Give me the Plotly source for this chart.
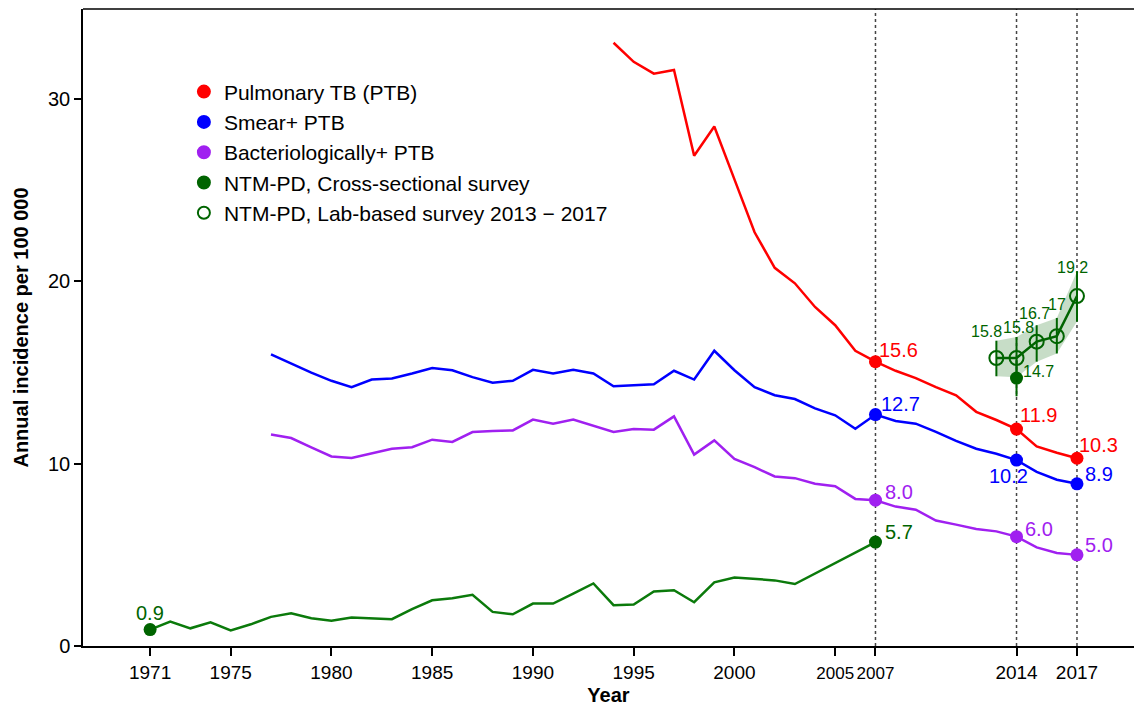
import plotly.graph_objects as go

# ---------------- data ----------------
ptb_years = list(range(1994, 2018))
ptb_vals = [33.1, 32.05, 31.4, 31.6, 26.9, 28.5, 25.6, 22.7, 20.75, 19.9, 18.6, 17.6,
            16.2, 15.6, 15.1, 14.7, 14.2, 13.75, 12.85, 12.4, 11.9, 10.95, 10.6, 10.3]

smear_years = list(range(1977, 2018))
smear_vals = [16.0, 15.5, 15.0, 14.55, 14.2, 14.62, 14.68, 14.95, 15.25, 15.13, 14.75,
              14.45, 14.55, 15.15, 14.95, 15.15, 14.95, 14.25, 14.3, 14.36, 15.1, 14.62,
              16.2, 15.13, 14.2, 13.76, 13.55, 13.04, 12.66, 11.92, 12.7, 12.35, 12.2,
              11.75, 11.25, 10.82, 10.55, 10.2, 9.55, 9.12, 8.9]

bact_years = list(range(1977, 2018))
bact_vals = [11.6, 11.41, 10.9, 10.4, 10.31, 10.58, 10.82, 10.91, 11.32, 11.2, 11.74,
             11.8, 11.83, 12.42, 12.2, 12.42, 12.1, 11.74, 11.9, 11.87, 12.6, 10.5,
             11.28, 10.27, 9.81, 9.3, 9.21, 8.9, 8.77, 8.07, 8.0, 7.65, 7.48, 6.88,
             6.66, 6.42, 6.29, 6.0, 5.41, 5.1, 5.0]

ntm_cs_years = list(range(1971, 2004)) + [2007]
ntm_cs_vals = [0.9, 1.34, 0.97, 1.3, 0.86, 1.19, 1.6, 1.8, 1.52, 1.38, 1.56, 1.52, 1.47,
               2.02, 2.51, 2.62, 2.81, 1.87, 1.74, 2.33, 2.33, 2.88, 3.43, 2.24, 2.28,
               2.99, 3.06, 2.4, 3.49, 3.76, 3.7, 3.6, 3.4, 5.7]

ntm_cs_pts_years = [1971, 2007, 2014]
ntm_cs_pts_vals = [0.9, 5.7, 14.7]
ntm_cs_pts_lo = [0.9, 5.7, 13.7]
ntm_cs_pts_hi = [0.9, 5.7, 15.7]

lab_years = [2013, 2014, 2015, 2016, 2017]
lab_vals = [15.8, 15.8, 16.7, 17.0, 19.2]
lab_lo = [14.8, 14.75, 15.6, 16.05, 17.8]
lab_hi = [16.75, 16.95, 17.6, 18.0, 20.55]
lab_text = ["15.8", "15.8", "16.7", "17", "19.2"]

key_years = [2007, 2014, 2017]
x_tickvals = [1971, 1975, 1980, 1985, 1990, 1995, 2000, 2005, 2007, 2014, 2017]
x_ticktext = ["1971", "1975", "1980", "1985", "1990", "1995", "2000",
              '<span style="font-size:17px">2005</span>',
              '<span style="font-size:17px">2007</span>', "2014", "2017"]
y_tickvals = [0, 10, 20, 30]

RED = "#ff0000"
BLUE = "#0000ff"
PURPLE = "#a020f0"
GREEN = "#006400"
LGREEN = "#0b7a0b"
FONT = "Liberation Sans, Arial, sans-serif"


def pick(years, vals, wanted):
    d = dict(zip(years, vals))
    return [d[y] for y in wanted]


fig = go.Figure()

# shaded CI band of lab-based survey
fig.add_trace(go.Scatter(x=lab_years, y=lab_lo, mode="lines", line=dict(width=0),
                         showlegend=False, hoverinfo="skip"))
fig.add_trace(go.Scatter(x=lab_years, y=lab_hi, mode="lines", line=dict(width=0),
                         fill="tonexty", fillcolor="rgba(0,100,0,0.22)",
                         showlegend=False, hoverinfo="skip"))

# lines
fig.add_trace(go.Scatter(x=ptb_years, y=ptb_vals, mode="lines",
                         line=dict(color=RED, width=2.5), showlegend=False))
fig.add_trace(go.Scatter(x=smear_years, y=smear_vals, mode="lines",
                         line=dict(color=BLUE, width=2.5), showlegend=False))
fig.add_trace(go.Scatter(x=bact_years, y=bact_vals, mode="lines",
                         line=dict(color=PURPLE, width=2.5), showlegend=False))
fig.add_trace(go.Scatter(x=ntm_cs_years, y=ntm_cs_vals, mode="lines",
                         line=dict(color=LGREEN, width=2.5), showlegend=False))

# key markers
ptb_k = pick(ptb_years, ptb_vals, key_years)
smear_k = pick(smear_years, smear_vals, key_years)
bact_k = pick(bact_years, bact_vals, key_years)

fig.add_trace(go.Scatter(x=key_years, y=ptb_k, mode="markers",
                         marker=dict(color=RED, size=13), showlegend=False))
fig.add_trace(go.Scatter(x=key_years, y=smear_k, mode="markers",
                         marker=dict(color=BLUE, size=13), showlegend=False))
fig.add_trace(go.Scatter(x=key_years, y=bact_k, mode="markers",
                         marker=dict(color=PURPLE, size=13), showlegend=False))
fig.add_trace(go.Scatter(
    x=ntm_cs_pts_years, y=ntm_cs_pts_vals, mode="markers",
    marker=dict(color=GREEN, size=13),
    error_y=dict(type="data", symmetric=False,
                 array=[h - v for h, v in zip(ntm_cs_pts_hi, ntm_cs_pts_vals)],
                 arrayminus=[v - l for l, v in zip(ntm_cs_pts_lo, ntm_cs_pts_vals)],
                 color=GREEN, thickness=2, width=0),
    showlegend=False))

# lab-based survey
fig.add_trace(go.Scatter(
    x=lab_years, y=lab_vals, mode="lines+markers",
    line=dict(color=GREEN, width=2.5),
    marker=dict(symbol="circle-open", color=GREEN, size=14, line=dict(width=2, color=GREEN)),
    error_y=dict(type="data", symmetric=False,
                 array=[h - v for h, v in zip(lab_hi, lab_vals)],
                 arrayminus=[v - l for l, v in zip(lab_lo, lab_vals)],
                 color=GREEN, thickness=2, width=0),
    showlegend=False))

# legend-only entries (marker with a short vertical bar)
legend_items = [
    ("Pulmonary TB (PTB)", RED, "circle"),
    ("Smear+ PTB", BLUE, "circle"),
    ("Bacteriologically+ PTB", PURPLE, "circle"),
    ("NTM-PD, Cross-sectional survey", GREEN, "circle"),
    ("NTM-PD, Lab-based survey 2013 \u2212 2017", GREEN, "circle-open"),
]
for i, (name, col, sym) in enumerate(legend_items):
    fig.add_trace(go.Scatter(
        x=[None], y=[None], mode="markers", name=name, legendgroup=f"g{i}",
        marker=dict(color=col, size=13, symbol=sym, line=dict(width=2, color=col)),
        error_y=dict(type="constant", value=1, color=col, thickness=2, width=0)))

# vertical dotted lines
for yr in key_years:
    fig.add_shape(type="line", xref="x", yref="paper", x0=yr, x1=yr, y0=0, y1=1,
                  line=dict(color="#444444", width=1.5, dash="dot"), layer="below")
# top border line
fig.add_shape(type="line", xref="paper", yref="paper", x0=0, x1=1, y0=1, y1=1,
              line=dict(color="black", width=1.5))

# value labels
def label(x, y, text, color, xshift, yshift, xanchor="left", size=20):
    fig.add_annotation(x=x, y=y, text=text, showarrow=False, xanchor=xanchor,
                       yanchor="middle", xshift=xshift, yshift=yshift,
                       font=dict(color=color, size=size, family=FONT))

ptb_off = [(2, 12, "left"), (1, 14, "left"), (0, 13, "left")]
smear_off = [(4, 11, "left"), (-8, -16, "center"), (6, 10, "left")]
bact_off = [(8, 8, "left"), (6, 8, "left"), (6, 10, "left")]
for yr, v, (xs, ys, xa) in zip(key_years, ptb_k, ptb_off):
    label(yr, v, f"{v:.1f}", RED, xs, ys, xa)
for yr, v, (xs, ys, xa) in zip(key_years, smear_k, smear_off):
    label(yr, v, f"{v:.1f}", BLUE, xs, ys, xa)
for yr, v, (xs, ys, xa) in zip(key_years, bact_k, bact_off):
    label(yr, v, f"{v:.1f}", PURPLE, xs, ys, xa)

cs_off = [(0, 17, "center", 20), (8, 10, "left", 20), (4, 7, "left", 16)]
for yr, v, (xs, ys, xa, sz) in zip(ntm_cs_pts_years, ntm_cs_pts_vals, cs_off):
    label(yr, v, f"{v:.1f}", GREEN, xs, ys, xa, sz)

lab_off = [(-10, 27), (2, 31), (-2, 28), (0, 32), (-4, 29)]
for yr, v, t, (xs, ys) in zip(lab_years, lab_vals, lab_text, lab_off):
    label(yr, v, t, GREEN, xs, ys, "center", 16)

fig.update_layout(
    width=1134, height=708,
    margin=dict(l=83, r=0, t=9, b=62, autoexpand=False),
    paper_bgcolor="white", plot_bgcolor="white",
    font=dict(family=FONT, color="black", size=20),
    showlegend=True,
    legend=dict(x=0.096, y=0.902, xanchor="left", yanchor="top",
                font=dict(size=21, family=FONT), bgcolor="rgba(0,0,0,0)",
                tracegroupgap=0, itemsizing="constant"),
    xaxis=dict(range=[1967.67, 2019.83], tickvals=x_tickvals, ticktext=x_ticktext,
               showgrid=False, zeroline=False, showline=True, linecolor="black",
               linewidth=1.5, ticks="outside", ticklen=8, tickwidth=1.5,
               tickcolor="black", tickfont=dict(size=19, family=FONT), automargin=False,
               title=dict(text="<b>Year</b>", font=dict(size=20, family=FONT), standoff=6)),
    yaxis=dict(range=[0, 34.95], tickvals=y_tickvals, showgrid=False, zeroline=False,
               showline=True, linecolor="black", linewidth=1.5, ticks="outside",
               ticklen=7, tickwidth=1.5, tickcolor="black", automargin=False,
               tickfont=dict(size=20, family=FONT),
               title=dict(text="<b>Annual incidence per 100 000</b>",
                          font=dict(size=20, family=FONT), standoff=14)),
)

fig.write_html("out.html", config={"displayModeBar": False},
               post_script="document.body.style.margin='0';"
                           "document.body.style.overflow='hidden';")
